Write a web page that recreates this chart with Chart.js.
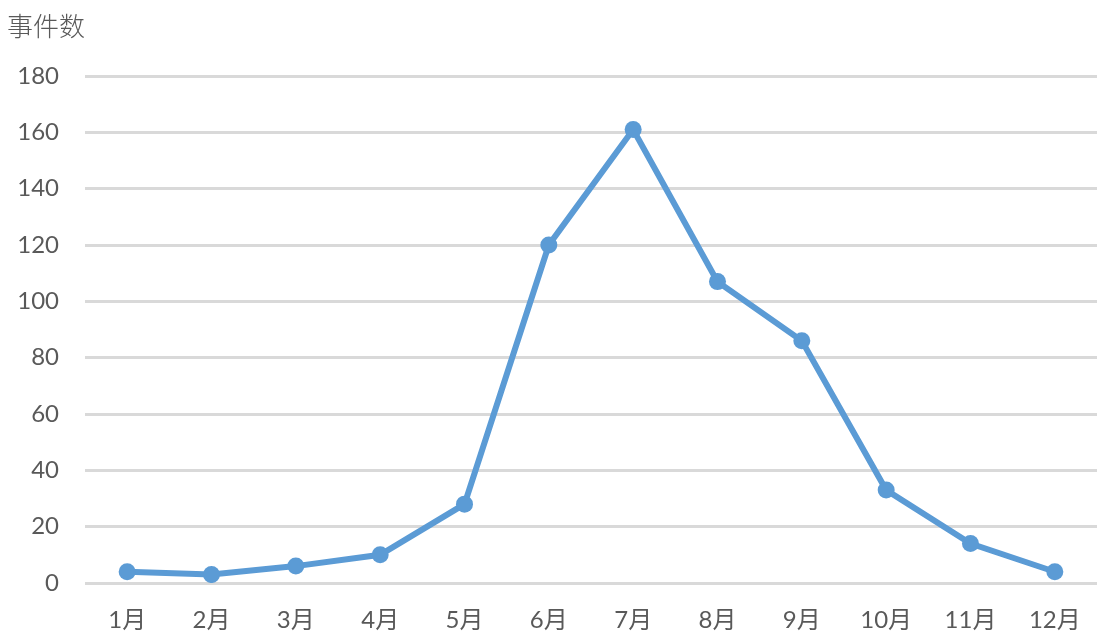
<!DOCTYPE html>
<html>
<head>
<meta charset="utf-8">
<script src="https://cdn.jsdelivr.net/npm/chart.js@4/dist/chart.umd.min.js"></script>
<style>
  html, body { margin: 0; padding: 0; background: #fff; }
  #wrap { width: 1112px; height: 644px; }
</style>
</head>
<body>
<div id="wrap"><canvas id="chartEvents"></canvas></div>
<script>
const months = ['1月', '2月', '3月', '4月', '5月', '6月', '7月', '8月', '9月', '10月', '11月', '12月'];
const eventCounts = [4, 3, 6, 10, 28, 120, 161, 107, 86, 33, 14, 4];
const yTicks = [0, 20, 40, 60, 80, 100, 120, 140, 160, 180];
const yTitle = '事件数';

const labelFont = "Lato, 'Noto Sans CJK SC', sans-serif";

// title drawn in the top-left corner
const cornerTitle = {
    id: 'cornerTitle',
    afterDraw(chart) {
        const ctx = chart.ctx;
        ctx.save();
        ctx.fillStyle = '#595959';
        ctx.font = "300 26px 'Noto Sans CJK SC', sans-serif";
        ctx.textBaseline = 'middle';
        ctx.textAlign = 'left';
        ctx.fillText(yTitle, 7, 26);
        ctx.restore();
    }
};

let chartEvents = new Chart(document.getElementById('chartEvents'), {
    type: 'line',
    data: {
        labels: months,
        datasets: [
            {
                label: yTitle,
                data: eventCounts,
                borderColor: '#5B9BD5',
                backgroundColor: '#5B9BD5',
                borderWidth: 6,
                pointRadius: 8.5,
                pointHoverRadius: 8.5,
                pointBorderWidth: 0,
                tension: 0
            }
        ]
    },
    options: {
        responsive: true,
        maintainAspectRatio: false,
        animation: false,
        layout: { padding: { left: 0, right: 15, top: 76, bottom: 0 } },
        plugins: {
            legend: { display: false },
            tooltip: { enabled: false }
        },
        scales: {
            x: {
                offset: true,
                grid: { display: false, offset: true },
                border: { display: false },
                ticks: {
                    color: '#595959',
                    font: { family: labelFont, size: 24 },
                    padding: 15,
                    maxRotation: 0
                },
                afterFit(scale) { scale.height = 61; }
            },
            y: {
                min: 0,
                max: 180,
                afterBuildTicks(scale) {
                    scale.ticks = yTicks.map(v => ({ value: v }));
                },
                grid: { color: '#D9D9D9', lineWidth: 3, drawTicks: false },
                border: { display: false },
                ticks: {
                    color: '#595959',
                    font: { family: labelFont, size: 24 },
                    padding: 26
                },
                afterFit(scale) { scale.width = 85; }
            }
        }
    },
    plugins: [cornerTitle]
});
</script>
</body>
</html>
